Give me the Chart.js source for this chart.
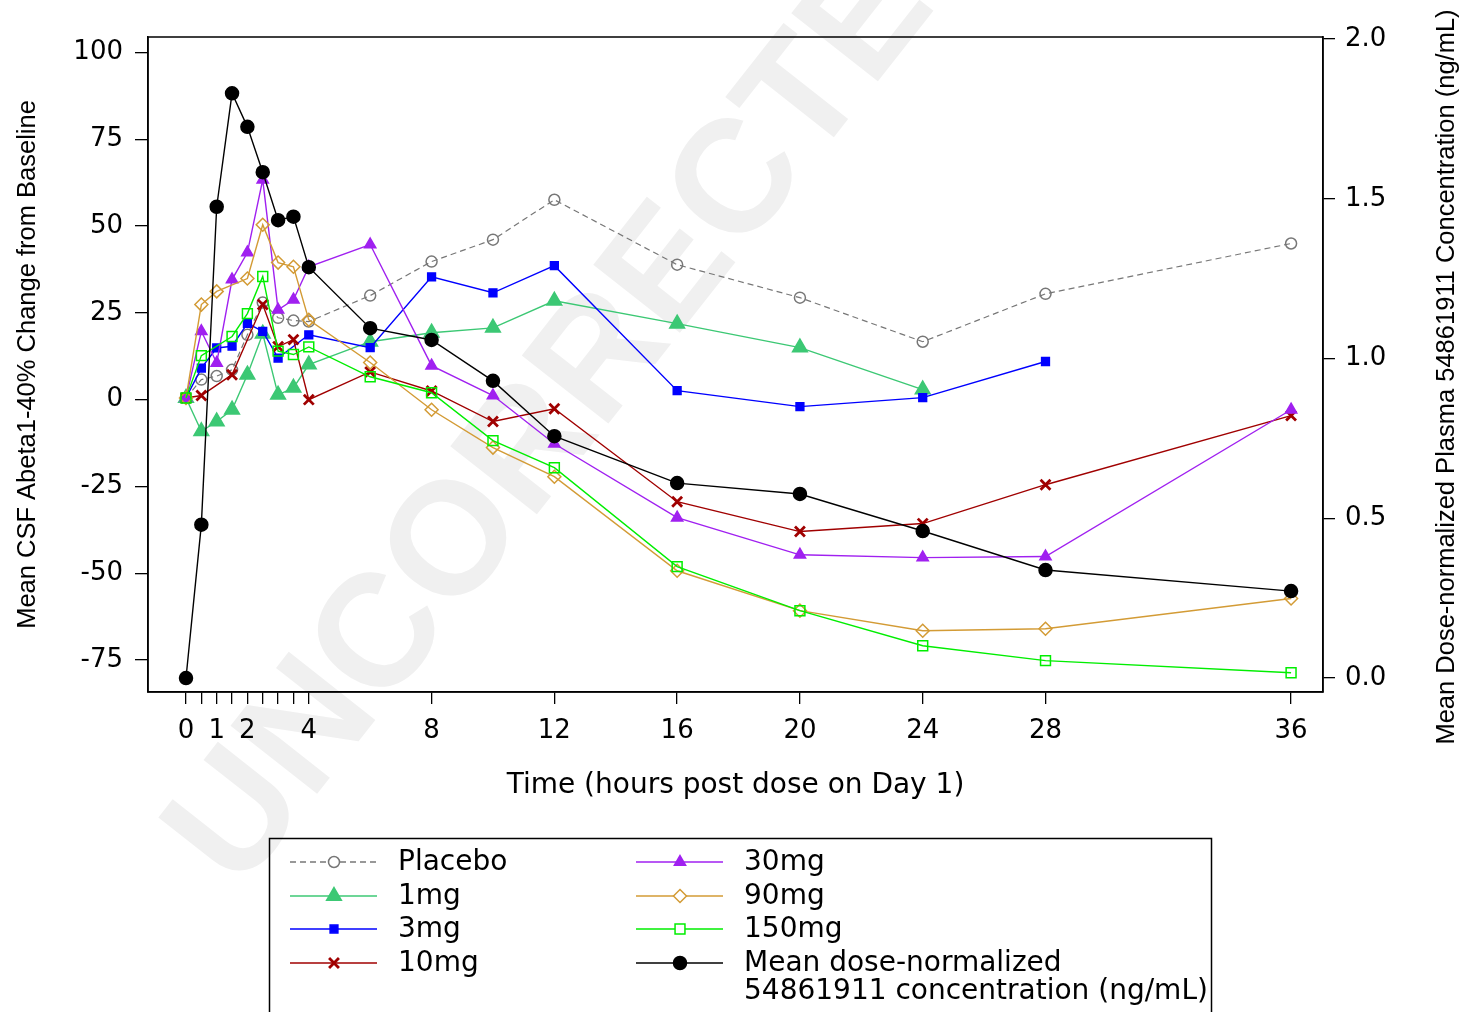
<!DOCTYPE html>
<html>
<head>
<meta charset="utf-8">
<script src="https://cdn.jsdelivr.net/npm/chart.js@4.4.1/dist/chart.umd.min.js"></script>
<style>
    html, body { margin: 0; padding: 0; background: #fff; }
    #wrap { width: 1472px; height: 1012px; }
</style>
</head>
<body>
<div id="wrap"><canvas id="pkpdChart"></canvas></div>
<script>
// sampling times (hours post dose on Day 1)
const times = [0, 0.5, 1, 1.5, 2, 2.5, 3, 3.5, 4, 6, 8, 10, 12, 16, 20, 24, 28, 36];

// Mean CSF Abeta1-40 % change from baseline, per cohort (null = not shown)
const placebo = [0.5, 5.8, 6.8, 8.6, 18.7, 28, 23.6, 22.8, 22.5, 30, 39.8, 46.1, 57.6, 38.9, 29.4, 16.7, 30.5, 45];
const dose1mg = [0.5, -9.1, -6.3, -2.9, 7.2, 19, 1.4, 3.4, 10.1, 16.7, 19.3, 20.7, 28.5, 21.9, 15, 2.9, null, null];
const dose3mg = [0.5, 9.1, 14.9, 15.4, 22, 19.7, 12, null, 18.7, 15, 35.4, 30.8, 38.6, 2.6, -2, 0.6, 11, null];
const dose10mg = [0.5, 1.2, null, 7.2, null, 27.4, 15.3, 17.3, 0, 8, 2.5, -6.3, -2.6, -29.4, -38, -35.7, -24.5, -4.6];
const dose30mg = [0.5, 19.7, 10.6, 34.6, 42.4, 63.4, 25.9, 28.8, 38.3, 44.7, 9.8, 1.2, -12.7, -34, -44.7, -45.5, -45.2, -2.9];
const dose90mg = [0.5, 27.4, 31.2, null, 34.9, 50.4, 39.5, 38.3, 23, 10.7, -2.9, -13.8, -22.2, -49.3, -60.8, -66.6, -66, -57.3];
const dose150mg = [0.5, 12.7, null, 18.2, 24.8, 35.5, 14, 13, 15.2, 6.6, 2, -11.8, -19.6, -48.1, -60.8, -70.9, -75.2, -78.7];

// Mean dose-normalized plasma concentration (ng/mL), right axis
const pkConc = [0.0, 0.48, 1.475, 1.83, 1.725, 1.583, 1.433, 1.444, 1.286, 1.095, 1.058, 0.93, 0.757, 0.61, 0.576, 0.46, 0.338, 0.272];

// axis ticks
const xTickValues = [0, 0.5, 1, 1.5, 2, 2.5, 3, 3.5, 4, 8, 12, 16, 20, 24, 28, 36];
const xLabelValues = [0, 1, 2, 4, 8, 12, 16, 20, 24, 28, 36];
const leftTicks = [-75, -50, -25, 0, 25, 50, 75, 100];
const rightTicks = [0, 0.5, 1, 1.5, 2];

const TICK_FONT = { family: 'DejaVu Sans', size: 26 };

function toPoints(values) {
    return times.map((t, i) => ({ x: t, y: values[i] }));
}

function series(label, values, color, style, radius, filled, extra) {
    return Object.assign({
        label: label,
        data: toPoints(values),
        yAxisID: 'y',
        borderColor: color,
        backgroundColor: color,
        borderWidth: 1.4,
        pointStyle: style,
        pointRadius: radius,
        pointBorderColor: color,
        pointBackgroundColor: filled ? color : 'rgba(255,255,255,0)',
        pointBorderWidth: 1.5,
        tension: 0,
        spanGaps: true
    }, extra || {});
}

const datasets = [
    series('Mean dose-normalized 54861911 concentration (ng/mL)', pkConc, '#000000', 'circle', 6.5, true, { yAxisID: 'y2', order: 0 }),
    series('150mg', dose150mg, '#00ee00', 'rect', 7, false, { order: 1 }),
    series('90mg', dose90mg, '#d39b35', 'rectRot', 6.5, false, { order: 2 }),
    series('30mg', dose30mg, '#a020f0', 'triangle', 6.5, true, { order: 3 }),
    series('10mg', dose10mg, '#a00000', 'crossRot', 7, false, { order: 4, pointBorderWidth: 2.8 }),
    series('3mg', dose3mg, '#0000ff', 'rect', 5.5, true, { order: 5 }),
    series('1mg', dose1mg, '#3cc874', 'triangle', 8.5, true, { order: 6 }),
    series('Placebo', placebo, '#777777', 'circle', 5.5, false, { order: 7, borderDash: [6, 4], borderWidth: 1.2 })
];

// legend layout: [dataset label, legend text lines, column x, row y]
const legendItems = [
    ['Placebo', ['Placebo'], 290, 862],
    ['1mg', ['1mg'], 290, 896],
    ['3mg', ['3mg'], 290, 929],
    ['10mg', ['10mg'], 290, 963],
    ['30mg', ['30mg'], 636, 862],
    ['90mg', ['90mg'], 636, 896],
    ['150mg', ['150mg'], 636, 929],
    ['Mean dose-normalized 54861911 concentration (ng/mL)', ['Mean dose-normalized', '54861911 concentration (ng/mL)'], 636, 963]
];

function drawMarker(ctx, style, x, y, r, stroke, fill, lw) {
    ctx.save();
    ctx.lineWidth = lw;
    ctx.strokeStyle = stroke;
    ctx.fillStyle = fill;
    ctx.beginPath();
    if (style === 'circle') {
        ctx.arc(x, y, r, 0, Math.PI * 2);
    } else if (style === 'rect') {
        const s = r * Math.SQRT1_2;
        ctx.rect(x - s, y - s, 2 * s, 2 * s);
    } else if (style === 'rectRot') {
        ctx.moveTo(x, y - r); ctx.lineTo(x + r, y); ctx.lineTo(x, y + r); ctx.lineTo(x - r, y); ctx.closePath();
    } else if (style === 'triangle') {
        ctx.moveTo(x, y - r);
        ctx.lineTo(x + r * Math.sin(Math.PI / 3), y + r / 2);
        ctx.lineTo(x - r * Math.sin(Math.PI / 3), y + r / 2);
        ctx.closePath();
    } else if (style === 'crossRot') {
        const s = r * Math.SQRT1_2;
        ctx.moveTo(x - s, y - s); ctx.lineTo(x + s, y + s);
        ctx.moveTo(x + s, y - s); ctx.lineTo(x - s, y + s);
    }
    if (style !== 'crossRot') ctx.fill();
    ctx.stroke();
    ctx.restore();
}

const backdropPlugin = {
    id: 'backdrop',
    beforeDraw(chart) {
        const ctx = chart.ctx;
        ctx.save();
        ctx.fillStyle = '#ffffff';
        ctx.fillRect(0, 0, chart.width, chart.height);
        // faint "UNCORRECTED" watermark
        ctx.translate(239, 893);
        ctx.rotate(-51.8 * Math.PI / 180);
        ctx.font = 'bold 160px "Liberation Sans"';
        ctx.fillStyle = '#f0f0f0';
        ctx.textBaseline = 'alphabetic';
        ctx.fillText('UNCORRECTED', 0, 0);
        ctx.restore();
    }
};

const framePlugin = {
    id: 'frameAndLegend',
    afterDraw(chart) {
        const ctx = chart.ctx;
        const area = chart.chartArea;
        ctx.save();
        // plot box
        ctx.strokeStyle = '#000';
        ctx.lineWidth = 1.5;
        ctx.strokeRect(area.left, area.top, area.right - area.left, area.bottom - area.top);

        // right axis title, reads bottom to top
        ctx.save();
        ctx.translate(1447, 377);
        ctx.rotate(-Math.PI / 2);
        ctx.font = '25.5px "Liberation Sans"';
        ctx.fillStyle = '#000';
        ctx.textAlign = 'center';
        ctx.textBaseline = 'middle';
        ctx.fillText('Mean Dose-normalized Plasma 54861911 Concentration (ng/mL)', 0, 0);
        ctx.restore();

        // legend box
        ctx.lineWidth = 1.5;
        ctx.strokeStyle = '#000';
        ctx.strokeRect(269.5, 838.5, 942, 200);
        ctx.font = '28px "DejaVu Sans"';
        ctx.textBaseline = 'middle';
        ctx.textAlign = 'left';
        legendItems.forEach(item => {
            const ds = chart.data.datasets.find(d => d.label === item[0]);
            const x0 = item[2], y0 = item[3];
            ctx.save();
            ctx.strokeStyle = ds.borderColor;
            ctx.lineWidth = 1.4;
            ctx.setLineDash(ds.borderDash || []);
            ctx.beginPath();
            ctx.moveTo(x0, y0);
            ctx.lineTo(x0 + 87, y0);
            ctx.stroke();
            ctx.restore();
            drawMarker(ctx, ds.pointStyle, x0 + 44, y0, ds.pointRadius, ds.pointBorderColor,
                ds.pointBackgroundColor === 'rgba(255,255,255,0)' ? '#ffffff' : ds.pointBackgroundColor,
                ds.pointBorderWidth);
            ctx.fillStyle = '#000';
            item[1].forEach((line, k) => ctx.fillText(line, x0 + 108, y0 + 1 + k * 28));
        });
        ctx.restore();
    }
};

const ctx = document.getElementById('pkpdChart').getContext('2d');
const chart = new Chart(ctx, {
    type: 'line',
    data: { datasets: datasets },
    options: {
        responsive: true,
        maintainAspectRatio: false,
        devicePixelRatio: 1,
        animation: false,
        layout: { padding: { top: 37, left: 0, right: 0, bottom: 0 } },
        plugins: {
            legend: { display: false },
            tooltip: { enabled: false }
        },
        scales: {
            x: {
                type: 'linear',
                position: 'bottom',
                min: -1.238,
                max: 37.04,
                afterBuildTicks: scale => { scale.ticks = xTickValues.map(v => ({ value: v })); },
                afterFit: scale => { scale.height = 320; },
                ticks: {
                    autoSkip: false,
                    maxRotation: 0,
                    padding: 12,
                    color: '#000',
                    font: TICK_FONT,
                    callback: value => xLabelValues.includes(value) ? String(value) : ''
                },
                grid: { drawOnChartArea: false, drawTicks: true, tickLength: 12, color: '#000', lineWidth: 1.3 },
                border: { display: true, color: '#000', width: 1.5 },
                title: {
                    display: true,
                    text: 'Time (hours post dose on Day 1)',
                    color: '#000',
                    font: { family: 'DejaVu Sans', size: 28 },
                    padding: { top: 0, bottom: 209 }
                }
            },
            y: {
                type: 'linear',
                position: 'left',
                min: -84.23,
                max: 104.5,
                afterBuildTicks: scale => { scale.ticks = leftTicks.map(v => ({ value: v })); },
                afterFit: scale => { scale.width = 148; },
                ticks: { padding: 12, color: '#000', font: TICK_FONT, callback: value => String(value) },
                grid: { drawOnChartArea: false, drawTicks: true, tickLength: 13, color: '#000', lineWidth: 1.3 },
                border: { display: true, color: '#000', width: 1.5 },
                title: {
                    display: true,
                    text: 'Mean CSF Abeta1-40% Change from Baseline',
                    color: '#000',
                    font: { family: 'Liberation Sans', size: 25.5 },
                    padding: { top: 13, bottom: 0 }
                }
            },
            y2: {
                type: 'linear',
                position: 'right',
                min: -0.0438,
                max: 2.0063,
                afterBuildTicks: scale => { scale.ticks = rightTicks.map(v => ({ value: v })); },
                afterFit: scale => { scale.width = 149; },
                ticks: { padding: 10, color: '#000', font: TICK_FONT, callback: value => value.toFixed(1) },
                grid: { drawOnChartArea: false, drawTicks: true, tickLength: 12, color: '#000', lineWidth: 1.3 },
                border: { display: true, color: '#000', width: 1.5 }
            }
        }
    },
    plugins: [backdropPlugin, framePlugin]
});
</script>
</body>
</html>
